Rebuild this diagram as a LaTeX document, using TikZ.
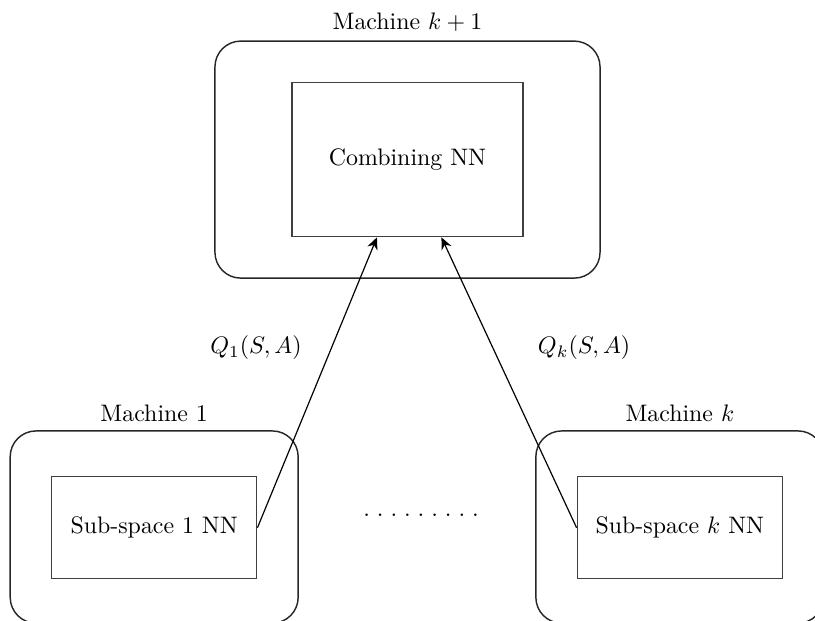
\documentclass[tikz,border=0pt]{standalone}
\usetikzlibrary{arrows.meta,positioning}
\newcommand{\gapdot}{\makebox[5.7pt]{.}}
\begin{document}
\begin{tikzpicture}[
  >={Stealth[length=5pt,width=4.5pt]},
  mach/.style={draw=black!85, line width=0.6pt, rounded corners=3.8mm, minimum width=4.24cm, minimum height=2.83cm},
  net/.style={draw=black!75, line width=0.6pt, align=center, minimum width=3.02cm, minimum height=1.5cm},
  lbl/.style={align=center},
  flow/.style={->, line width=0.5pt},
]
\clip (0,0) rectangle (12.0,9.14);
% machine k+1 holding the combining network
\node[mach, minimum width=5.67cm, minimum height=3.49cm] (mtop) at (6.0,6.79) {};
\node[lbl, above=0mm of mtop] {Machine $k+1$};
\node[net, minimum width=3.4cm, minimum height=2.27cm] (comb) at (6.0,6.79) {Combining NN};
% machines 1 and k
\node[mach] (m1) at (2.27,1.38) {};
\node[lbl, above=0mm of m1] {Machine 1};
\node[net] (sub1) at (2.27,1.37) {Sub-space 1 NN};
\node[mach] (mk) at (10.01,1.38) {};
\node[lbl, above=0mm of mk] {Machine $k$};
\node[net] (subk) at (10.01,1.37) {Sub-space $k$ NN};
\node[lbl] (gap) at (6.2,1.56) {\gapdot\gapdot\gapdot\gapdot\gapdot\gapdot\gapdot\gapdot\gapdot};
% outputs up to the combiner
\draw[flow] (sub1.east) -- ([xshift=-4.5mm]comb.south);
\draw[flow] (subk.west) -- ([xshift=5mm]comb.south);
\node[lbl] (q1) at (3.77,4.02) {$Q_1(S,A)$};
\node[lbl] (qk) at (8.6,4.02) {$Q_k(S,A)$};
\end{tikzpicture}
\end{document}
